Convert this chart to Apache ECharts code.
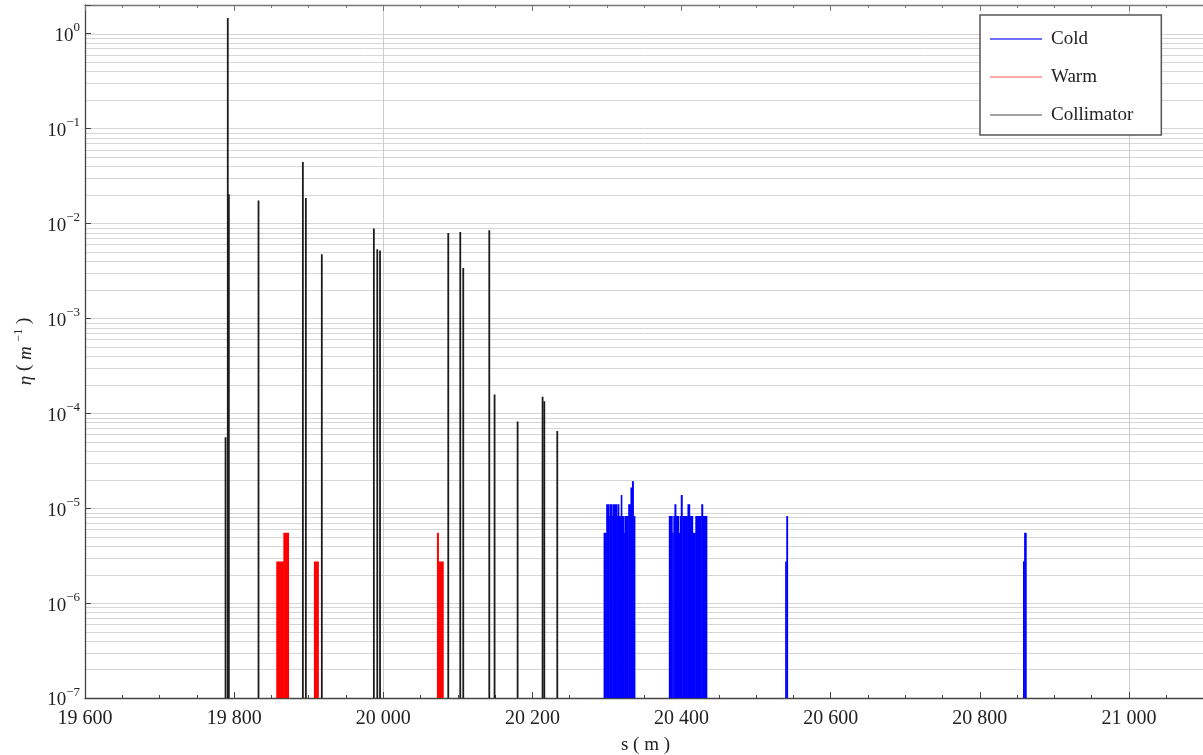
<!DOCTYPE html>
<html><head><meta charset="utf-8">
<script src="https://cdn.jsdelivr.net/npm/echarts@6/dist/echarts.min.js"></script>
<style>html,body{margin:0;padding:0;background:#fff}#c{width:1203px;height:755px}</style>
</head><body><div id="c"></div>
<script>
// ---- data ----
const X_MIN = 19600, X_MAX = 21200, X_INTERVAL = 200;
const Y_MIN = 1e-7, Y_MAX = 2;
const xGridValues = [20000, 21000];
const yGridMultipliers = [1, 2, 3, 4, 5, 6, 7, 8, 9];
const yGridDecades = [-7, -6, -5, -4, -3, -2, -1, 0];

// Collimator: [s (m), eta (1/m)]
const collimatorS = [19788.5, 19791.5, 19792.9, 19832.7, 19892.2, 19896.2, 19917.6, 19987.4, 19992.0, 19995.7,
                     20087.2, 20103.3, 20107.3, 20142.2, 20149.3, 20180.2, 20213.7, 20216.0, 20233.4];
const collimatorEta = [5.6e-5, 1.46, 0.0203, 0.0174, 0.0444, 0.0185, 0.00472, 0.00884, 0.00533, 0.00518,
                       0.00792, 0.00812, 0.00339, 0.00846, 1.58e-4, 8.2e-5, 1.49e-4, 1.34e-4, 6.5e-5];

// Warm: [s start, s end, eta]
const warmBins = [
  [19856.5, 19866.0, 2.75e-6], [19866.0, 19873.0, 5.5e-6],
  [19907.0, 19913.0, 2.75e-6],
  [20072.0, 20074.0, 5.5e-6], [20074.0, 20080.5, 2.75e-6]
];

// Cold: [s start, s end, eta]
const coldBins = [
  [20295.5, 20299.0, 5.5e-6], [20299.0, 20303.0, 1.1e-5], [20303.0, 20304.0, 8.25e-6],
  [20304.0, 20307.0, 1.1e-5], [20307.0, 20308.0, 8.25e-6], [20308.0, 20313.0, 1.1e-5],
  [20313.0, 20314.0, 8.25e-6], [20314.0, 20316.0, 1.1e-5], [20316.0, 20318.5, 8.25e-6],
  [20318.5, 20320.0, 1.375e-5], [20320.0, 20323.0, 8.25e-6], [20323.0, 20324.0, 5.5e-6],
  [20324.0, 20328.5, 8.25e-6], [20328.5, 20331.5, 1.1e-5], [20331.5, 20333.5, 1.65e-5],
  [20333.5, 20335.5, 1.925e-5], [20335.5, 20337.5, 8.25e-6],
  [20383.0, 20387.5, 8.25e-6], [20387.5, 20389.0, 5.5e-6], [20389.0, 20390.5, 8.25e-6],
  [20390.5, 20392.5, 1.1e-5], [20392.5, 20396.0, 8.25e-6], [20396.0, 20397.5, 5.5e-6],
  [20397.5, 20399.0, 8.25e-6], [20399.0, 20401.0, 1.375e-5], [20401.0, 20408.0, 8.25e-6],
  [20408.0, 20411.0, 1.1e-5], [20411.0, 20415.0, 8.25e-6], [20415.0, 20418.5, 5.5e-6],
  [20418.5, 20426.5, 8.25e-6], [20426.5, 20428.5, 1.1e-5], [20428.5, 20434.0, 8.25e-6],
  [20539.0, 20540.5, 2.75e-6], [20540.5, 20542.3, 8.25e-6],
  [20858.0, 20859.5, 2.75e-6], [20859.5, 20862.3, 5.5e-6]
];

// ---- chart ----
const SERIF = "'Liberation Serif', 'DejaVu Serif', 'Times New Roman', serif";
const chart = echarts.init(document.getElementById('c'), null, {renderer: 'canvas'});

const hGrid = [];
yGridDecades.forEach(d => yGridMultipliers.forEach(m => hGrid.push([X_MIN, m * Math.pow(10, d)])));
hGrid.push([X_MIN, 2]);
const vGrid = xGridValues.map(s => [s, Y_MIN]);

function rectItem(params, api) {
  const p0 = api.coord([api.value(0), Y_MIN]);
  const p1 = api.coord([api.value(1), api.value(2)]);
  const w = Math.max(p1[0] - p0[0], 0.8) + 0.5;
  return {type: 'rect', shape: {x: p0[0], y: p1[1], width: w, height: p0[1] - p1[1]},
          style: {fill: api.visual('color')}};
}
function spikeItem(params, api) {
  const p0 = api.coord([api.value(0), Y_MIN]);
  const p1 = api.coord([api.value(0), api.value(1)]);
  return {type: 'line', shape: {x1: p0[0], y1: p0[1], x2: p1[0], y2: p1[1]},
          style: {stroke: api.visual('color'), lineWidth: 1.8}};
}
function hGridItem(params, api) {
  const cs = params.coordSys;
  const y = Math.round(api.coord([X_MIN, api.value(1)])[1]) + 0.5;
  return {type: 'line', shape: {x1: cs.x, y1: y, x2: cs.x + cs.width, y2: y},
          style: {stroke: '#d6d6d6', lineWidth: 1}};
}
function vGridItem(params, api) {
  const cs = params.coordSys;
  const x = Math.round(api.coord([api.value(0), Y_MIN])[0]) + 0.5;
  return {type: 'line', shape: {x1: x, y1: cs.y, x2: x, y2: cs.y + cs.height},
          style: {stroke: '#cccccc', lineWidth: 1}};
}

const xFmt = v => {
  const s = String(Math.round(v));
  return s.length > 3 ? s.slice(0, s.length - 3) + ' ' + s.slice(-3) : s;
};
const yFmt = v => {
  const l = Math.log10(v);
  const e = Math.round(l);
  if (Math.abs(l - e) > 1e-6) return '';
  return '{b|10}{s|' + (e < 0 ? '\u2212' + (-e) : String(e)) + '}';
};

const axisColor = '#444';
const option = {
  animation: false,
  backgroundColor: '#fff',
  grid: {left: 85, top: 5, width: 1193, height: 693, containLabel: false, outerBoundsMode: 'none'},
  legend: {
    left: 980, top: 15, orient: 'vertical',
    icon: 'rect', itemWidth: 52, itemHeight: 2, itemGap: 18,
    padding: [14, 28, 10, 10],
    borderColor: '#555', borderWidth: 1.5, backgroundColor: '#fff',
    textStyle: {fontFamily: SERIF, fontSize: 19, color: '#222', lineHeight: 20, padding: [0, 0, 0, 4]},
    data: [
      {name: 'Cold', itemStyle: {color: '#6e6eff'}},
      {name: 'Warm', itemStyle: {color: '#ffadad'}},
      {name: 'Collimator', itemStyle: {color: '#a3a3a3'}}
    ]
  },
  xAxis: [{
    type: 'value', position: 'bottom', min: X_MIN, max: X_MAX, interval: X_INTERVAL,
    name: 's ( m )', nameLocation: 'middle', nameGap: 38,
    nameTextStyle: {fontFamily: SERIF, fontSize: 19, color: '#222', padding: [0, 72, 0, 0]},
    axisLine: {show: true, lineStyle: {color: axisColor, width: 1.3}},
    axisTick: {show: true, inside: true, length: 6, lineStyle: {color: axisColor, width: 1}},
    minorTick: {show: true, splitNumber: 4, length: 3, lineStyle: {color: axisColor, width: 1}},
    axisLabel: {fontFamily: SERIF, fontSize: 20, color: '#222', margin: 11, formatter: xFmt, showMaxLabel: false},
    splitLine: {show: false}
  }, {
    type: 'value', position: 'top', min: X_MIN, max: X_MAX, interval: X_INTERVAL,
    axisLine: {show: true, lineStyle: {color: '#777', width: 1.3}},
    axisTick: {show: true, inside: true, length: 6, lineStyle: {color: '#777'}},
    minorTick: {show: true, splitNumber: 4, length: 3, lineStyle: {color: '#777'}},
    axisLabel: {show: false}, splitLine: {show: false}
  }],
  yAxis: [{
    type: 'log', logBase: 10, position: 'left', min: Y_MIN, max: Y_MAX,
    name: '{i|\u03b7} ( {i|m} {s|\u22121} )', nameLocation: 'middle', nameGap: 50, nameRotate: 90,
    nameTextStyle: {
      fontFamily: SERIF, fontSize: 19, color: '#222',
      rich: {
        i: {fontFamily: SERIF, fontSize: 19, fontStyle: 'italic', color: '#222', lineHeight: 22, verticalAlign: 'bottom'},
        s: {fontFamily: SERIF, fontSize: 12, color: '#222', lineHeight: 12, verticalAlign: 'top'}
      }
    },
    axisLine: {show: true, lineStyle: {color: axisColor, width: 1.3}},
    axisTick: {show: true, inside: true, length: 6, lineStyle: {color: axisColor}},
    axisLabel: {
      margin: 5, formatter: yFmt, showMaxLabel: true,
      rich: {
        b: {fontFamily: SERIF, fontSize: 19, color: '#222', lineHeight: 24, verticalAlign: 'bottom'},
        s: {fontFamily: SERIF, fontSize: 13, color: '#222', lineHeight: 13, verticalAlign: 'top'}
      }
    },
    splitLine: {show: false}
  }, {
    type: 'log', logBase: 10, position: 'right', min: Y_MIN, max: Y_MAX,
    axisLine: {show: true, lineStyle: {color: '#777'}},
    axisTick: {show: true, inside: true, length: 6},
    axisLabel: {show: false}, splitLine: {show: false}
  }],
  series: [
    {name: 'hgrid', type: 'custom', z: 0, silent: true, renderItem: hGridItem,
     encode: {x: 0, y: 1}, data: hGrid},
    {name: 'vgrid', type: 'custom', z: 0, silent: true, renderItem: vGridItem,
     encode: {x: 0, y: 1}, data: vGrid},
    {name: 'Collimator', type: 'custom', z: 3, clip: true, renderItem: spikeItem,
     itemStyle: {color: '#1c1c1c'}, encode: {x: 0, y: 1},
     data: collimatorS.map((s, i) => [s, collimatorEta[i]])},
    {name: 'Warm', type: 'custom', z: 2, clip: true, renderItem: rectItem,
     itemStyle: {color: '#ff0000'}, encode: {x: [0, 1], y: 2}, data: warmBins},
    {name: 'Cold', type: 'custom', z: 2, clip: true, renderItem: rectItem,
     itemStyle: {color: '#0000ff'}, encode: {x: [0, 1], y: 2}, data: coldBins}
  ]
};
chart.setOption(option);
</script>
</body></html>
